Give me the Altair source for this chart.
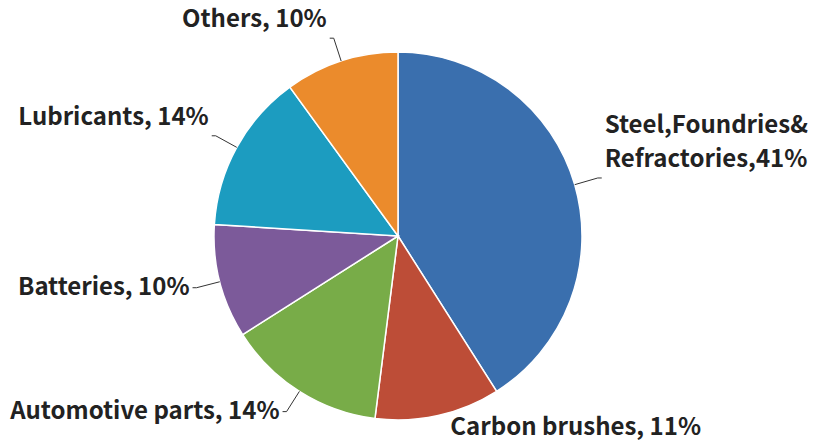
import altair as alt
import pandas as pd

# ---- data ----
names = ["Steel,Foundries& Refractories", "Carbon brushes", "Automotive parts",
         "Batteries", "Lubricants", "Others"]
values = [41, 11, 14, 10, 14, 10]
labels = ["Steel,Foundries&\nRefractories,41%", "Carbon brushes, 11%",
          "Automotive parts, 14%", "Batteries, 10%", "Lubricants, 14%", "Others, 10%"]
colors = ["#3a6fae", "#bd4d37", "#78ac48", "#7c5a9a", "#1c9cc0", "#eb8b2c"]

df = pd.DataFrame({"name": names, "value": values, "label": labels,
                   "order": list(range(len(names)))})

# ---- layout ----
CX, CY, R = 398, 236, 184
RL = 208      # leader outer radius
ELBOW = 4     # horizontal leader segment
LH = 34       # text line height
FONT = "Noto Sans CJK SC"

pie = alt.Chart(df).mark_arc(outerRadius=R, stroke="white", strokeWidth=1.5).encode(
    theta=alt.Theta("value:Q", stack=True),
    color=alt.Color("name:N", scale=alt.Scale(domain=names, range=colors), legend=None),
    order=alt.Order("order:Q"),
    x=alt.value(CX),
    y=alt.value(CY),
)

geo = (
    alt.Chart(df)
    .transform_window(cum="sum(value)", sort=[alt.SortField("order")])
    .transform_joinaggregate(total="sum(value)")
    .transform_calculate(mid="(datum.cum - datum.value/2) / datum.total * 2 * PI")
    .transform_calculate(
        side="sin(datum.mid) >= 0 ? 1 : -1",
        nlines="length(split(datum.label, '\\n'))",
        xe=f"{CX} + {R} * sin(datum.mid)",
        ye=f"{CY} - {R} * cos(datum.mid)",
        xo=f"{CX} + {RL} * sin(datum.mid)",
        yo=f"{CY} - {RL} * cos(datum.mid)",
    )
    .transform_calculate(
        xh=f"datum.xo + datum.side * {ELBOW}",
        xt=f"datum.xo + datum.side * {ELBOW + 3}",
        # labels above the centre sit above their leader, labels below are centred on it
        yt=(f"cos(datum.mid) > 0 ? datum.yo - 18 - (datum.nlines - 1) * {LH}"
            f" : min(datum.yo, {441 - 13})"),
    )
)

leaders = geo.transform_filter("datum.name != 'Carbon brushes'")
rule1 = leaders.mark_rule(color="#333333", strokeWidth=1).encode(
    x=alt.X("xe:Q", scale=None), y=alt.Y("ye:Q", scale=None),
    x2="xo:Q", y2="yo:Q",
)
rule2 = leaders.mark_rule(color="#333333", strokeWidth=1).encode(
    x=alt.X("xo:Q", scale=None), y=alt.Y("yo:Q", scale=None),
    x2="xh:Q", y2="yo:Q",
)

text_kw = dict(font=FONT, fontSize=24, fontWeight="bold", color="#222222",
               baseline="middle", lineBreak="\n", lineHeight=LH)
text_right = geo.transform_filter("datum.side > 0").mark_text(align="left", **text_kw).encode(
    x=alt.X("xt:Q", scale=None), y=alt.Y("yt:Q", scale=None), text="label:N")
text_left = geo.transform_filter("datum.side < 0").mark_text(align="right", **text_kw).encode(
    x=alt.X("xt:Q", scale=None), y=alt.Y("yt:Q", scale=None), text="label:N")

chart = (
    alt.layer(pie, rule1, rule2, text_right, text_left)
    .properties(width=821, height=441, autosize=alt.AutoSizeParams(type="none"), padding=0)
    .configure_view(stroke=None)
)

chart.save("out.html", embed_options={"renderer": "svg", "actions": False})
